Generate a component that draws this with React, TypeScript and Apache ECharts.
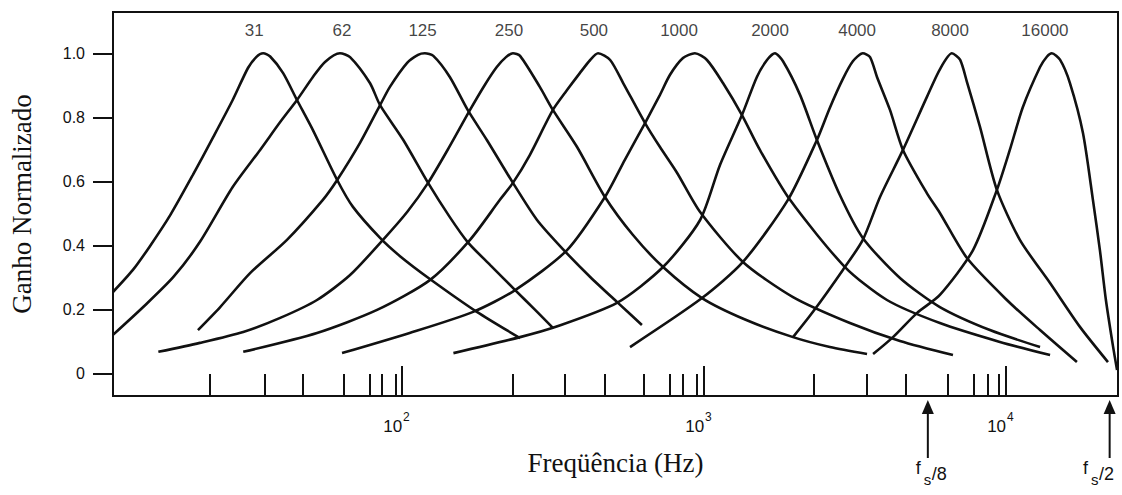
import React, { useEffect, useRef } from "react";
import * as echarts from "echarts";

const W = 1122;
const H = 495;

// Axis ranges
const xMin = 11.04;
const xMax = 23500;
const yMin = -0.071;
const yMax = 1.129;

// Tick values
const yTickValues = [0, 0.2, 0.4, 0.6, 0.8, 1.0];
const decadeTicks = [100, 1000, 10000];
const minorTicks = [
  23, 35, 47, 64, 78, 86, 95,
  233, 347, 470, 630, 770, 850, 950,
  2310, 3470, 4660, 6430, 7830, 8720, 9490,
];

// Band labels at the top
const bandNames = ["31", "62", "125", "250", "500", "1000", "2000", "4000", "8000", "16000"];
const bandLabelFreqs = [32.4, 63.3, 117, 226, 432, 827, 1655, 3214, 6530, 13460];
const bandLabelGain = 1.071;

// Filter responses: [frequency Hz, normalised gain]
const c31 = [
  [11.04, 0.254], [12.85, 0.323], [14.65, 0.398], [17.1, 0.495], [20.3, 0.62], [23.7, 0.738],
  [27.5, 0.854], [30.9, 0.954], [32.9, 0.988], [34.7, 1.0], [36.6, 0.99], [40.4, 0.938],
  [44.9, 0.854], [50.7, 0.76], [61.0, 0.604], [68.8, 0.52], [84.6, 0.423], [98.5, 0.366],
  [124, 0.294], [177, 0.192], [246, 0.11],
];
const c62 = [
  [11.04, 0.12], [13.9, 0.207], [17.5, 0.301], [21.4, 0.41], [27.5, 0.582], [33.9, 0.698],
  [39.5, 0.785], [44.9, 0.854], [50.7, 0.926], [55.6, 0.973], [62.3, 1.0], [67.3, 0.988],
  [78.3, 0.907], [84.6, 0.838], [101, 0.729], [122, 0.595], [144, 0.488], [165, 0.41],
  [196, 0.338], [237, 0.26], [276, 0.198], [316, 0.142],
];
const c125 = [
  [21.1, 0.135], [25.0, 0.207], [31.4, 0.313], [41.6, 0.417], [54.7, 0.542], [61.0, 0.604],
  [72.6, 0.72], [84.6, 0.838], [91.2, 0.895], [104, 0.97], [113, 0.995], [119, 1.0],
  [127, 0.992], [144, 0.926], [165, 0.823], [191, 0.729], [233, 0.595], [280, 0.479],
  [341, 0.388], [420, 0.301], [519, 0.22], [623, 0.151],
];
const c250 = [
  [15.6, 0.067], [21.4, 0.095], [29.8, 0.129], [39.5, 0.173], [52.3, 0.229], [67.3, 0.307],
  [86.5, 0.417], [104, 0.504], [122, 0.595], [143, 0.705], [168, 0.823], [188, 0.901],
  [206, 0.957], [221, 0.988], [233, 1.0], [246, 0.992], [286, 0.895], [316, 0.823],
  [380, 0.707], [470, 0.551], [582, 0.432], [732, 0.332], [985, 0.235], [1368, 0.168],
  [1972, 0.113], [2612, 0.082], [3467, 0.06],
];
const c500 = [
  [29.8, 0.067], [52.3, 0.126], [82.7, 0.198], [124, 0.292], [168, 0.417], [211, 0.542],
  [233, 0.595], [265, 0.682], [316, 0.823], [352, 0.885], [388, 0.938], [420, 0.979],
  [446, 1.0], [489, 0.979], [540, 0.907], [638, 0.782], [715, 0.707], [815, 0.626],
  [971, 0.504], [1346, 0.348], [1972, 0.238], [3043, 0.157], [4457, 0.101], [6677, 0.057],
];
const c1000 = [
  [63.3, 0.063], [106, 0.126], [172, 0.192], [237, 0.26], [352, 0.385], [470, 0.551],
  [547, 0.667], [638, 0.782], [715, 0.87], [771, 0.932], [852, 0.985], [933, 1.0],
  [1023, 0.979], [1156, 0.907], [1336, 0.807], [1532, 0.698], [1927, 0.542], [2930, 0.332],
  [4036, 0.229], [6043, 0.157], [9550, 0.098], [14000, 0.057],
];
const c2000 = [
  [148, 0.063], [246, 0.113], [316, 0.142], [515, 0.22], [732, 0.332], [971, 0.479],
  [1130, 0.651], [1336, 0.807], [1497, 0.926], [1617, 0.979], [1718, 1.0], [1827, 0.975],
  [2080, 0.87], [2366, 0.729], [2818, 0.557], [3357, 0.423], [4457, 0.298], [6043, 0.207],
  [8851, 0.135], [12970, 0.082],
];
const c4000 = [
  [569, 0.082], [985, 0.235], [1346, 0.348], [1897, 0.542], [2366, 0.729], [2612, 0.83],
  [2884, 0.92], [3112, 0.975], [3357, 1.0], [3548, 0.988], [3741, 0.926], [4130, 0.823],
  [4560, 0.698], [5470, 0.563], [6043, 0.501], [7430, 0.36], [10070, 0.229], [12970, 0.135],
  [17180, 0.035],
];
const c8000 = [
  [1972, 0.113], [2296, 0.192], [2884, 0.323], [3357, 0.417], [3828, 0.551], [4560, 0.698],
  [5470, 0.863], [6043, 0.95], [6622, 1.0], [7047, 0.98], [7430, 0.91], [8204, 0.77],
  [9333, 0.573], [11120, 0.417], [13996, 0.282], [17580, 0.145], [21770, 0.035],
];
const c16000 = [
  [3631, 0.06], [4227, 0.113], [5070, 0.188], [6043, 0.245], [7780, 0.385], [9333, 0.573],
  [10300, 0.698], [11380, 0.832], [12970, 0.957], [13680, 0.99], [14190, 1.0], [15100, 0.98],
  [16290, 0.907], [17990, 0.751], [19410, 0.542], [20470, 0.385], [21430, 0.229], [22590, 0.088],
  [23330, 0.01],
];
const curves = [c31, c62, c125, c250, c500, c1000, c2000, c4000, c8000, c16000];

// Sampling-frequency markers (fs = 44100 Hz)
const markerFreqs = [5512.5, 22050];
const markerTails = ["/8", "/2"];

const INK = "#111";
const SANS = "'Liberation Sans', Arial, sans-serif";
const SERIF = "'Liberation Serif', 'Times New Roman', serif";

export default function App() {
  const ref = useRef<HTMLDivElement>(null);

  useEffect(() => {
    if (!ref.current) return;
    const chart = echarts.init(ref.current, null, { renderer: "svg", width: W, height: H });

    const lineSeries = curves.map((c, i) => ({
      type: "line",
      name: bandNames[i],
      xAxisIndex: 0,
      yAxisIndex: 0,
      data: c,
      showSymbol: false,
      symbol: "none",
      smooth: 0.25,
      silent: true,
      lineStyle: { color: INK, width: 2.6 },
    }));

    const option: any = {
      animation: false,
      backgroundColor: "#fff",
      grid: {
        left: 113,
        right: 4,
        top: 12,
        bottom: 99,
        show: true,
        borderColor: INK,
        borderWidth: 2,
        containLabel: false,
      },
      xAxis: [
        {
          type: "log",
          logBase: 10,
          min: xMin,
          max: xMax,
          position: "bottom",
          name: "Freqüência (Hz)",
          nameLocation: "middle",
          nameGap: 53,
          nameTextStyle: { fontFamily: SERIF, fontSize: 27, color: INK },
          axisLine: { show: false, onZero: false },
          axisTick: {
            show: true,
            inside: true,
            length: 30,
            customValues: decadeTicks,
            lineStyle: { color: INK, width: 2 },
          },
          axisLabel: {
            show: true,
            customValues: decadeTicks,
            margin: 15,
            formatter: (v: number) => `{b|10}{s|${Math.round(Math.log10(v))}}`,
            rich: {
              b: { fontFamily: SANS, fontSize: 17, color: INK, lineHeight: 30, verticalAlign: "middle" },
              s: {
                fontFamily: SANS,
                fontSize: 12,
                color: INK,
                lineHeight: 12,
                verticalAlign: "top",
                padding: [0, 11, 0, 1],
              },
            },
          },
          splitLine: { show: false },
          minorTick: { show: false },
        },
        {
          type: "log",
          logBase: 10,
          min: xMin,
          max: xMax,
          position: "bottom",
          axisLine: { show: false, onZero: false },
          axisLabel: { show: false },
          axisTick: {
            show: true,
            inside: true,
            length: 22,
            customValues: minorTicks,
            lineStyle: { color: INK, width: 2 },
          },
          splitLine: { show: false },
        },
      ],
      yAxis: {
        type: "value",
        min: yMin,
        max: yMax,
        name: "Ganho Normalizado",
        nameLocation: "middle",
        nameGap: 78,
        nameRotate: 90,
        nameTextStyle: { fontFamily: SERIF, fontSize: 27, color: INK },
        axisLine: { show: false, onZero: false },
        axisTick: {
          show: true,
          inside: false,
          length: 20,
          customValues: yTickValues,
          lineStyle: { color: INK, width: 2 },
        },
        axisLabel: {
          customValues: yTickValues,
          margin: 28,
          fontFamily: SANS,
          fontSize: 16,
          color: INK,
          formatter: (v: number) => (Math.abs(v) < 1e-9 ? "0" : v.toFixed(1)),
        },
        splitLine: { show: false },
      },
      series: [
        ...lineSeries,
        {
          type: "scatter",
          xAxisIndex: 0,
          yAxisIndex: 0,
          silent: true,
          symbolSize: 0,
          data: bandLabelFreqs.map((f, i) => ({ value: [f, bandLabelGain], name: bandNames[i] })),
          label: {
            show: true,
            position: "inside",
            formatter: "{b}",
            fontFamily: SANS,
            fontSize: 17,
            color: INK,
          },
        },
      ],
    };

    chart.setOption(option);

    // Arrows for fs/8 and fs/2 below the axis, placed through the axis scale
    const baseY = chart.convertToPixel({ yAxisIndex: 0 }, yMin) as number;
    const graphics: any[] = [];
    markerFreqs.forEach((f, i) => {
      const x = chart.convertToPixel({ xAxisIndex: 0 }, f) as number;
      graphics.push({
        type: "line",
        shape: { x1: x, y1: baseY + 14, x2: x, y2: baseY + 62 },
        style: { stroke: INK, lineWidth: 2 },
        silent: true,
      });
      graphics.push({
        type: "polygon",
        shape: { points: [[x, baseY + 4], [x - 6, baseY + 18], [x + 6, baseY + 18]] },
        style: { fill: INK },
        silent: true,
      });
      const textW = 37;
      let left = x - 12;
      if (left + textW > W - 2) left = W - 2 - textW;
      graphics.push({
        type: "text",
        x: left,
        y: baseY + 63,
        style: { text: "f", fontFamily: SANS, fontSize: 18, fill: INK, align: "left", verticalAlign: "top" },
        silent: true,
      });
      graphics.push({
        type: "text",
        x: left + 8,
        y: baseY + 76,
        style: { text: "s", fontFamily: SANS, fontSize: 15, fill: INK, align: "left", verticalAlign: "top" },
        silent: true,
      });
      graphics.push({
        type: "text",
        x: left + 16,
        y: baseY + 69,
        style: { text: markerTails[i], fontFamily: SANS, fontSize: 18, fill: INK, align: "left", verticalAlign: "top" },
        silent: true,
      });
    });
    chart.setOption({ graphic: graphics });

    return () => {
      chart.dispose();
    };
  }, []);

  return (
    <div
      ref={ref}
      style={{ position: "fixed", left: 0, top: 0, width: W, height: H, background: "#fff" }}
    />
  );
}
